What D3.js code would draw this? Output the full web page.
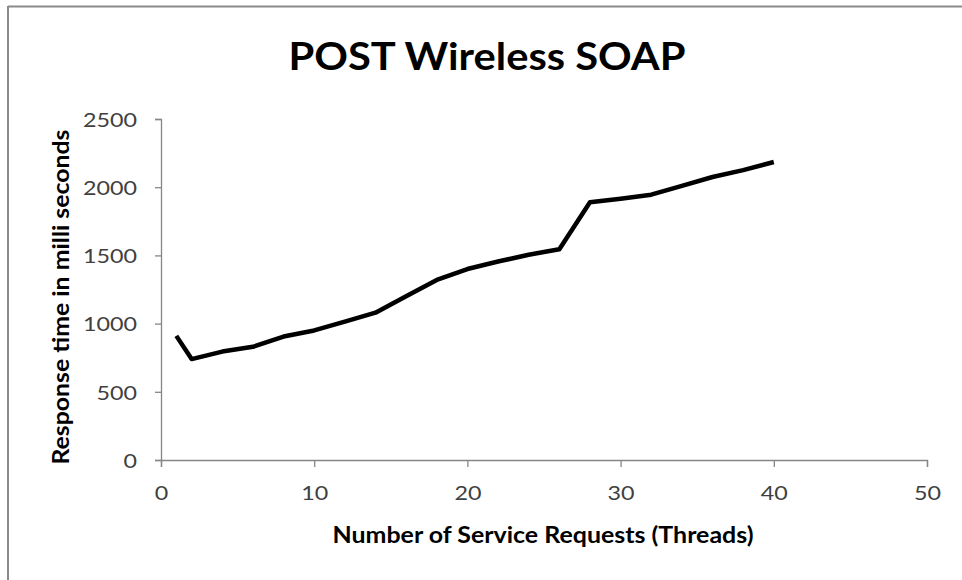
<!DOCTYPE html>
<html>
<head>
<meta charset="utf-8">
<script src="https://cdn.jsdelivr.net/npm/d3@7"></script>
<style>
  html, body { margin: 0; padding: 0; background: #fff; }
  svg { display: block; }
</style>
</head>
<body>
<svg id="chart" width="962" height="580"></svg>
<script>
// Response time measurements for POST requests over a wireless link (SOAP)
const threads = [1, 2, 4, 6, 8, 10, 12, 14, 16, 18, 20, 22, 24, 26, 28, 30, 32, 34, 36, 38, 40];
const responseMs = [910, 740, 795, 830, 905, 950, 1015, 1080, 1200, 1320, 1400, 1455, 1505, 1545, 1890, 1915, 1945, 2010, 2075, 2125, 2185];
const xTicks = [0, 10, 20, 30, 40, 50];
const yTicks = [0, 500, 1000, 1500, 2000, 2500];

const chartTitle = "POST Wireless SOAP";
const xTitle = "Number of Service Requests (Threads)";
const yTitle = "Response time in milli seconds";

const svg = d3.select("#chart");
const font = "Lato, 'Open Sans', sans-serif";
const axisGray = "#868686";
const labelGray = "#404040";
const digitWidth = 13.5; // wide digit advance for tick labels

// Outer frame (top and left edges)
svg.append("line").attr("x1", 8).attr("x2", 962).attr("y1", 6.5).attr("y2", 6.5)
  .attr("stroke", "#8a8a8a").attr("stroke-width", 2);
svg.append("line").attr("x1", 8).attr("x2", 8).attr("y1", 6).attr("y2", 580)
  .attr("stroke", "#8a8a8a").attr("stroke-width", 2);

const x = d3.scaleLinear().domain([0, 50]).range([161, 927]);
const y = d3.scaleLinear().domain([0, 2500]).range([460, 119]);

function styleTicks(sel) {
  sel.select(".domain").attr("stroke", axisGray).attr("stroke-width", 1.3);
  sel.selectAll(".tick line").attr("stroke", axisGray).attr("stroke-width", 1.3);
  sel.selectAll(".tick text")
    .attr("fill", labelGray)
    .style("font-family", font).style("font-size", "20px")
    .attr("textLength", d => String(d).length * digitWidth)
    .attr("lengthAdjust", "spacingAndGlyphs");
}

// Y axis
const yAxis = svg.append("g")
  .attr("transform", `translate(${x(0)},0)`)
  .call(d3.axisLeft(y).tickValues(yTicks).tickSize(6).tickPadding(18).tickFormat(d3.format("d")));
styleTicks(yAxis);
yAxis.selectAll(".tick text").attr("dy", "0.36em");

// X axis
const xAxis = svg.append("g")
  .attr("transform", `translate(0,${y(0)})`)
  .call(d3.axisBottom(x).tickValues(xTicks).tickSize(7).tickPadding(19).tickFormat(d3.format("d")));
styleTicks(xAxis);

// Series line
const pts = threads.map((t, i) => [t, responseMs[i]]);
svg.append("path")
  .datum(pts)
  .attr("fill", "none")
  .attr("stroke", "#000")
  .attr("stroke-width", 4.5)
  .attr("stroke-linejoin", "round")
  .attr("d", d3.line().x(d => x(d[0])).y(d => y(d[1])));

// Titles
svg.append("text")
  .attr("x", 487).attr("y", 70)
  .attr("text-anchor", "middle")
  .style("font-family", font).style("font-weight", "bold").style("font-size", "38px")
  .attr("textLength", 397).attr("lengthAdjust", "spacingAndGlyphs")
  .attr("fill", "#000")
  .text(chartTitle);

svg.append("text")
  .attr("x", 543).attr("y", 543)
  .attr("text-anchor", "middle")
  .style("font-family", font).style("font-weight", "bold").style("font-size", "22px")
  .attr("textLength", 421).attr("lengthAdjust", "spacingAndGlyphs")
  .attr("fill", "#000")
  .text(xTitle);

svg.append("text")
  .attr("transform", "translate(69,297) rotate(-90)")
  .attr("text-anchor", "middle")
  .style("font-family", font).style("font-weight", "bold").style("font-size", "22px")
  .attr("textLength", 335).attr("lengthAdjust", "spacingAndGlyphs")
  .attr("fill", "#000")
  .text(yTitle);
</script>
</body>
</html>
